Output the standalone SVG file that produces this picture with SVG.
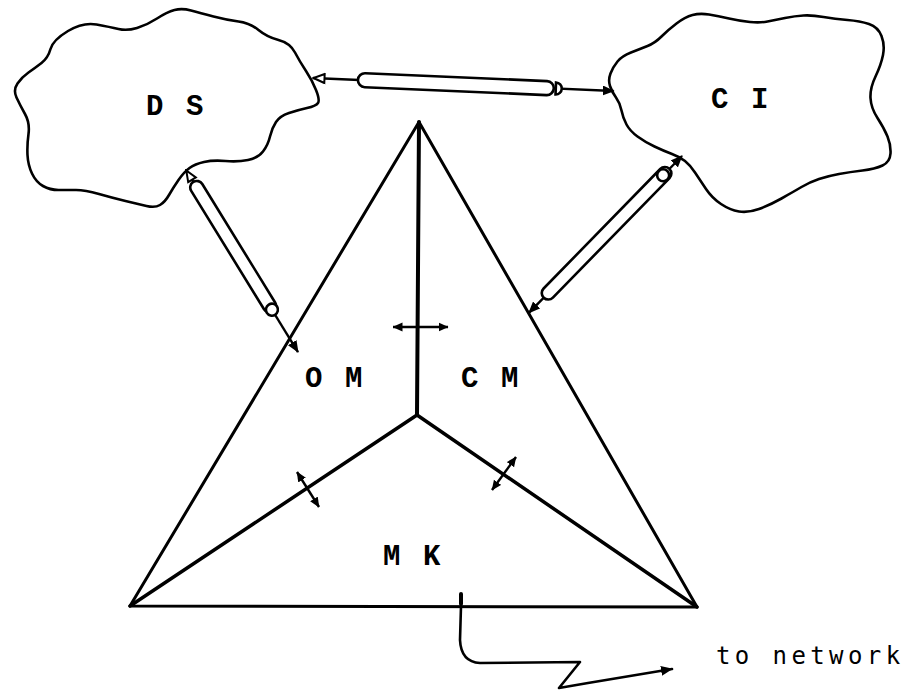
<svg xmlns="http://www.w3.org/2000/svg" width="912" height="690" viewBox="0 0 912 690">
  <style>
    .ink { fill: none; stroke: #000; stroke-linecap: round; stroke-linejoin: round; }
    .cloud { fill: #fff; stroke: #000; stroke-width: 2.6; stroke-linejoin: round; }
    .tube { fill: #fff; stroke: #000; stroke-width: 2.6; }
    .shaft { stroke: #000; stroke-width: 2.4; fill: none; }
    .label { font-family: "Liberation Mono", "Courier New", monospace; font-weight: bold; font-size: 29px; letter-spacing: 2.6px; fill: #000; }
    .note { font-family: "DejaVu Sans Mono", monospace; font-size: 24px; letter-spacing: 4.4px; fill: #000; }
  </style>
  <defs>
    <marker id="head" viewBox="0 0 12 10" refX="11" refY="5" markerWidth="12" markerHeight="10" markerUnits="userSpaceOnUse" orient="auto-start-reverse">
      <path d="M0,0 L12,5 L0,10 Z" fill="#000"/>
    </marker>
    <marker id="headOpen" viewBox="0 0 14 12" refX="13" refY="6" markerWidth="14" markerHeight="12" markerUnits="userSpaceOnUse" orient="auto-start-reverse">
      <path d="M1.5,1.5 L12.5,6 L1.5,10.5 Z" fill="#fff" stroke="#000" stroke-width="2"/>
    </marker>
    <marker id="small" viewBox="0 0 10 10" refX="9.5" refY="5" markerWidth="10" markerHeight="10" markerUnits="userSpaceOnUse" orient="auto-start-reverse">
      <path d="M0,0.5 L10,5 L0,9.5 Z" fill="#000"/>
    </marker>
  </defs>

  <!-- DS cloud -->
  <g id="node-ds">
    <path class="cloud" d="M50.5,49 Q53,40 68,31 Q83,22 96.5,24.5 Q110,27 118.5,29 Q127,31 137,28 Q147,25 157,18.5 Q167,12 174.5,10 Q182,8 191,10.5 Q200,13 213.5,16.5 Q227,20 238.5,21.5 Q250,23 258.5,30 Q267,37 278.5,40 Q290,43 295,52.5 Q300,62 306,71 Q312,80 316,90 Q320,100 318,103 Q316,106 307,108 Q298,110 289,113 Q280,116 276,122 Q272,128 270,136.5 Q268,145 263,151.5 Q258,158 248,160 Q238,162 225.5,161 Q213,160 204,162 Q195,164 189.5,168 Q184,172 178.5,180 Q173,188 169,195 Q165,202 160,205 Q155,208 146.5,206 Q138,204 125.5,201 Q113,198 99,194 Q85,190 76,190 Q67,190 58.5,190 Q50,190 43,186 Q36,182 32,173.5 Q28,165 27.5,155 Q27,145 28.5,134 Q30,123 25,114 Q20,105 16.5,97.5 Q13,90 17.5,83.5 Q22,77 28.5,72.5 Q35,68 41.5,63 Q48,58 50.5,49 Z"/>
    <text class="label" x="146" y="115">D S</text>
  </g>

  <!-- CI cloud -->
  <g id="node-ci">
    <path class="cloud" d="M610.5,73.5 Q613,67 617.5,61.5 Q622,56 631,52.5 Q640,49 647.5,46 Q655,43 661.5,36.5 Q668,30 676.5,23.5 Q685,17 692.5,15 Q700,13 709,14.5 Q718,16 729,18.5 Q740,21 750,22 Q760,23 767.5,21.5 Q775,20 785,18 Q795,16 803.5,15.5 Q812,15 823.5,17 Q835,19 847.5,20 Q860,21 869,24 Q878,27 881.5,36 Q885,45 883,55 Q881,65 875.5,76.5 Q870,88 870.5,98 Q871,108 877.5,118 Q884,128 887.5,136.5 Q891,145 890.5,153.5 Q890,162 882.5,165.5 Q875,169 862.5,170.5 Q850,172 839,174 Q828,176 819,179 Q810,182 801.5,187 Q793,192 781.5,198.5 Q770,205 759,209 Q748,213 739,211.5 Q730,210 721,204 Q712,198 706,189 Q700,180 695,172.5 Q690,165 685,161 Q680,157 672,154 Q664,151 654.5,146.5 Q645,142 637.5,136.5 Q630,131 626.5,124.5 Q623,118 621.5,110.5 Q620,103 616,97.5 Q612,92 610,86 Q608,80 610.5,73.5 Z"/>
    <text class="label" x="711" y="108">C I</text>
  </g>

  <!-- Triangle of the three modules -->
  <g id="node-triangle">
    <polygon class="ink" stroke-width="3" points="419,122 130,606 697,607"/>
  </g>
  <g id="node-om">
    <text class="label" x="305" y="387">O M</text>
  </g>
  <g id="node-cm">
    <text class="label" x="461" y="387">C M</text>
  </g>
  <g id="node-mk">
    <text class="label" x="383" y="565">M K</text>
  </g>
  <g id="node-network">
    <text class="note" x="716" y="664">to network</text>
  </g>

  <g id="connectors">
    <!-- internal partitions -->
    <line class="ink" stroke-width="4" x1="419" y1="122" x2="417" y2="415"/>
    <line class="ink" stroke-width="3.5" x1="417" y1="415" x2="130" y2="606"/>
    <line class="ink" stroke-width="3.5" x1="417" y1="415" x2="697" y2="607"/>

    <!-- exchanges across partitions -->
    <line class="shaft" x1="393" y1="327" x2="448" y2="327" marker-start="url(#small)" marker-end="url(#small)"/>
    <line class="shaft" x1="297" y1="472" x2="319" y2="507" marker-start="url(#small)" marker-end="url(#small)"/>
    <line class="shaft" x1="492" y1="490" x2="516" y2="457" marker-start="url(#small)" marker-end="url(#small)"/>

    <!-- DS to CI pipe -->
    <g transform="translate(313,78) rotate(2.47)">
      <line class="shaft" x1="0" y1="0" x2="301" y2="0" marker-start="url(#headOpen)" marker-end="url(#head)"/>
      <rect class="tube" x="45" y="-7" width="196" height="14" rx="7"/>
      <path class="tube" d="M243,-6 A6,6 0 0 1 243,6 Z"/>
    </g>

    <!-- DS to OM pipe -->
    <g transform="translate(186,170) rotate(58.4)">
      <line class="shaft" x1="0" y1="0" x2="213.7" y2="0" marker-start="url(#headOpen)" marker-end="url(#head)"/>
      <rect class="tube" x="14" y="-6.5" width="152" height="13" rx="6.5"/>
      <circle class="tube" cx="164" cy="0" r="6"/>
    </g>

    <!-- CI to CM pipe -->
    <g transform="translate(682,156) rotate(134.3)">
      <line class="shaft" x1="0" y1="0" x2="219.2" y2="0" marker-start="url(#head)" marker-end="url(#head)"/>
      <rect class="tube" x="18" y="-6.5" width="180" height="13" rx="6.5"/>
      <circle class="tube" cx="27" cy="0" r="6"/>
    </g>

    <!-- line out to the network -->
    <line class="ink" stroke-width="4" x1="461" y1="594" x2="461" y2="604"/>
    <path class="ink" stroke-width="2.6" d="M461,606 L460,640 Q461,662 480,663 L580,662 L559,688 L588,683 L672,669" marker-end="url(#head)"/>
  </g>
</svg>
